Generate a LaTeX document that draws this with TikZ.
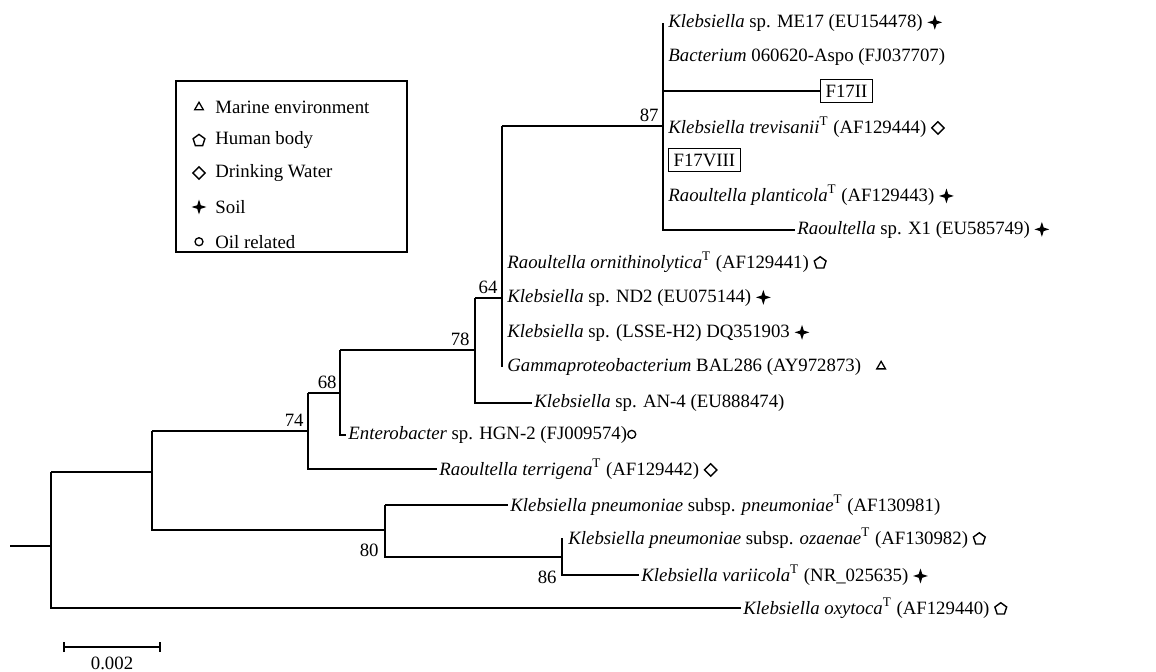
\documentclass[tikz,border=0pt]{standalone}
\usepackage{fontspec}
\setmainfont{Liberation Serif}
\usetikzlibrary{arrows.meta}

% habitat marks used after the strain names
\newcommand{\symmarine}{\tikz[baseline=-0.6ex,line width=0.65pt]\draw (90:2.5pt)--(210:2.5pt)--(330:2.5pt)--cycle;}
\newcommand{\symhuman}{\tikz[baseline=-0.6ex,line width=0.7pt]\draw (90:3.1pt)--(162:3.1pt)--(234:3.1pt)--(306:3.1pt)--(18:3.1pt)--cycle;}
\newcommand{\symwater}{\tikz[baseline=-0.6ex,line width=0.7pt]\draw (0,3.1pt)--(3.1pt,0)--(0,-3.1pt)--(-3.1pt,0)--cycle;}
\newcommand{\symsoil}{\tikz[baseline=-0.6ex]\fill (0,3.7pt)--(0.9pt,0.9pt)--(3.7pt,0)--(0.9pt,-0.9pt)--(0,-3.7pt)--(-0.9pt,-0.9pt)--(-3.7pt,0)--(-0.9pt,0.9pt)--cycle;}
\newcommand{\symoil}{\tikz[baseline=-0.6ex,line width=0.65pt]\draw (0,0) circle (2pt);}
\newcommand{\typ}{\textsuperscript{T}}

\tikzset{
  branch/.style={line width=0.8pt},
  leaf/.style={anchor=west, inner sep=1pt},
  boot/.style={inner sep=1pt},
  strain/.style={draw, line width=0.6pt, inner sep=2.5pt},
}

\begin{document}
\begin{tikzpicture}[x=0.5pt,y=-0.5pt,font=\fontsize{9.4}{11}\selectfont]
    \useasboundingbox (0,0) rectangle (1156,671);

    %% inner nodes of the tree
    \coordinate (stub) at (10,546);
    \coordinate (root) at (51,546);
    \coordinate (nA) at (152,472);
    \coordinate (n74) at (308,431);
    \coordinate (n68) at (340,393);
    \coordinate (n78) at (475,350);
    \coordinate (n64) at (502,298);
    \coordinate (n87) at (663,126);
    \coordinate (n80) at (385,530);
    \coordinate (n86) at (562,557);

    %% leaves, top to bottom
    \node[leaf] (me17) at (666,23) {\textit{Klebsiella} sp. ME17 (EU154478) \symsoil};
    \node[leaf] (aspo) at (666,57) {\textit{Bacterium} 060620-Aspo (FJ037707)};
    \node[strain,anchor=west] (f17ii) at (820,91) {F17II};
    \node[leaf] (trev) at (666,127) {\textit{Klebsiella trevisanii}\typ{} (AF129444) \symwater};
    \node[strain,anchor=west] (f17viii) at (668,160) {F17VIII};
    \node[leaf] (plant) at (666,195) {\textit{Raoultella planticola}\typ{} (AF129443) \symsoil};
    \node[leaf] (x1) at (795,230) {\textit{Raoultella} sp. X1 (EU585749) \symsoil};
    \node[leaf] (ornith) at (505,262) {\textit{Raoultella ornithinolytica}\typ{} (AF129441) \symhuman};
    \node[leaf] (nd2) at (505,298) {\textit{Klebsiella} sp. ND2 (EU075144) \symsoil};
    \node[leaf] (lsse) at (505,333) {\textit{Klebsiella} sp. (LSSE-H2) DQ351903 \symsoil};
    \node[leaf] (gamma) at (505,367) {\textit{Gammaproteobacterium} BAL286 (AY972873)\hspace{0.8em}\symmarine};
    \node[leaf] (an4) at (532,403) {\textit{Klebsiella} sp. AN-4 (EU888474)};
    \node[leaf] (hgn2) at (346,435) {\textit{Enterobacter} sp. HGN-2 (FJ009574)\symoil};
    \node[leaf] (terr) at (437,469) {\textit{Raoultella terrigena}\typ{} (AF129442) \symwater};
    \node[leaf] (pneu) at (508,505) {\textit{Klebsiella pneumoniae} subsp. \textit{pneumoniae}\typ{} (AF130981)};
    \node[leaf] (ozae) at (566,538) {\textit{Klebsiella pneumoniae} subsp. \textit{ozaenae}\typ{} (AF130982) \symhuman};
    \node[leaf] (vari) at (639,575) {\textit{Klebsiella variicola}\typ{} (NR\_025635) \symsoil};
    \node[leaf] (oxyt) at (741,608) {\textit{Klebsiella oxytoca}\typ{} (AF129440) \symhuman};

    %% branches
    \draw[branch] (stub) -- (root);
    \draw[branch] (root |- nA) -- (root |- oxyt.west) -- (oxyt.west)
                  (root |- nA) -- (nA);
    \draw[branch] (nA |- n74) -- (nA |- n80) -- (n80)
                  (nA |- n74) -- (n74);
    \draw[branch] (n74 |- n68) -- (n74 |- terr.west) -- (terr.west)
                  (n74 |- n68) -- (n68);
    \draw[branch] (n68 |- n78) -- (n68 |- hgn2.west) -- (hgn2.west)
                  (n68 |- n78) -- (n78);
    \draw[branch] (n78 |- n64) -- (n78 |- an4.west) -- (an4.west)
                  (n78 |- n64) -- (n64);
    \draw[branch] (n64 |- n87) -- (n64 |- gamma.west)
                  (n64 |- n87) -- (n87);
    \draw[branch] (n87 |- me17.west) -- (n87 |- x1.west) -- (x1.west)
                  (n87 |- f17ii.west) -- (f17ii.west);
    \draw[branch] (n80 |- pneu.west) -- (n80 |- n86) -- (n86)
                  (n80 |- pneu.west) -- (pneu.west);
    \draw[branch] (n86 |- ozae.west) -- (n86 |- vari.west) -- (vari.west);

    %% bootstrap values
    \node[boot,anchor=south east] (b87) at (661,124) {87};
    \node[boot,anchor=south] (b64) at (488,296) {64};
    \node[boot,anchor=south east] (b78) at (472,348) {78};
    \node[boot,anchor=south east] (b68) at (339,391) {68};
    \node[boot,anchor=south east] (b74) at (306,429) {74};
    \node[boot,anchor=east] (b80) at (381,550) {80};
    \node[boot,anchor=east] (b86) at (559,577) {86};

    %% legend
    \draw[line width=1.2pt] (176,81) rectangle (407,252);
    \foreach \y/\s/\t [count=\i] in {107/\symmarine/Marine environment,
        140/\symhuman/Human body,
        173/\symwater/Drinking Water,
        207/\symsoil/Soil,
        242/\symoil/Oil related}
    {
        \node[inner sep=0pt] (mark\i) at (199,\y) {\s};
        \node[leaf] (habitat\i) at (213,\y) {\t};
    }

    %% scale bar
    \coordinate (sbl) at (63,647);
    \coordinate (sbr) at (161,647);
    \draw[branch,{Bar[width=5pt]}-{Bar[width=5pt]}] (sbl) -- (sbr);
    \node[inner sep=0pt] (sblabel) at (112,663) {0.002};
\end{tikzpicture}
\end{document}
